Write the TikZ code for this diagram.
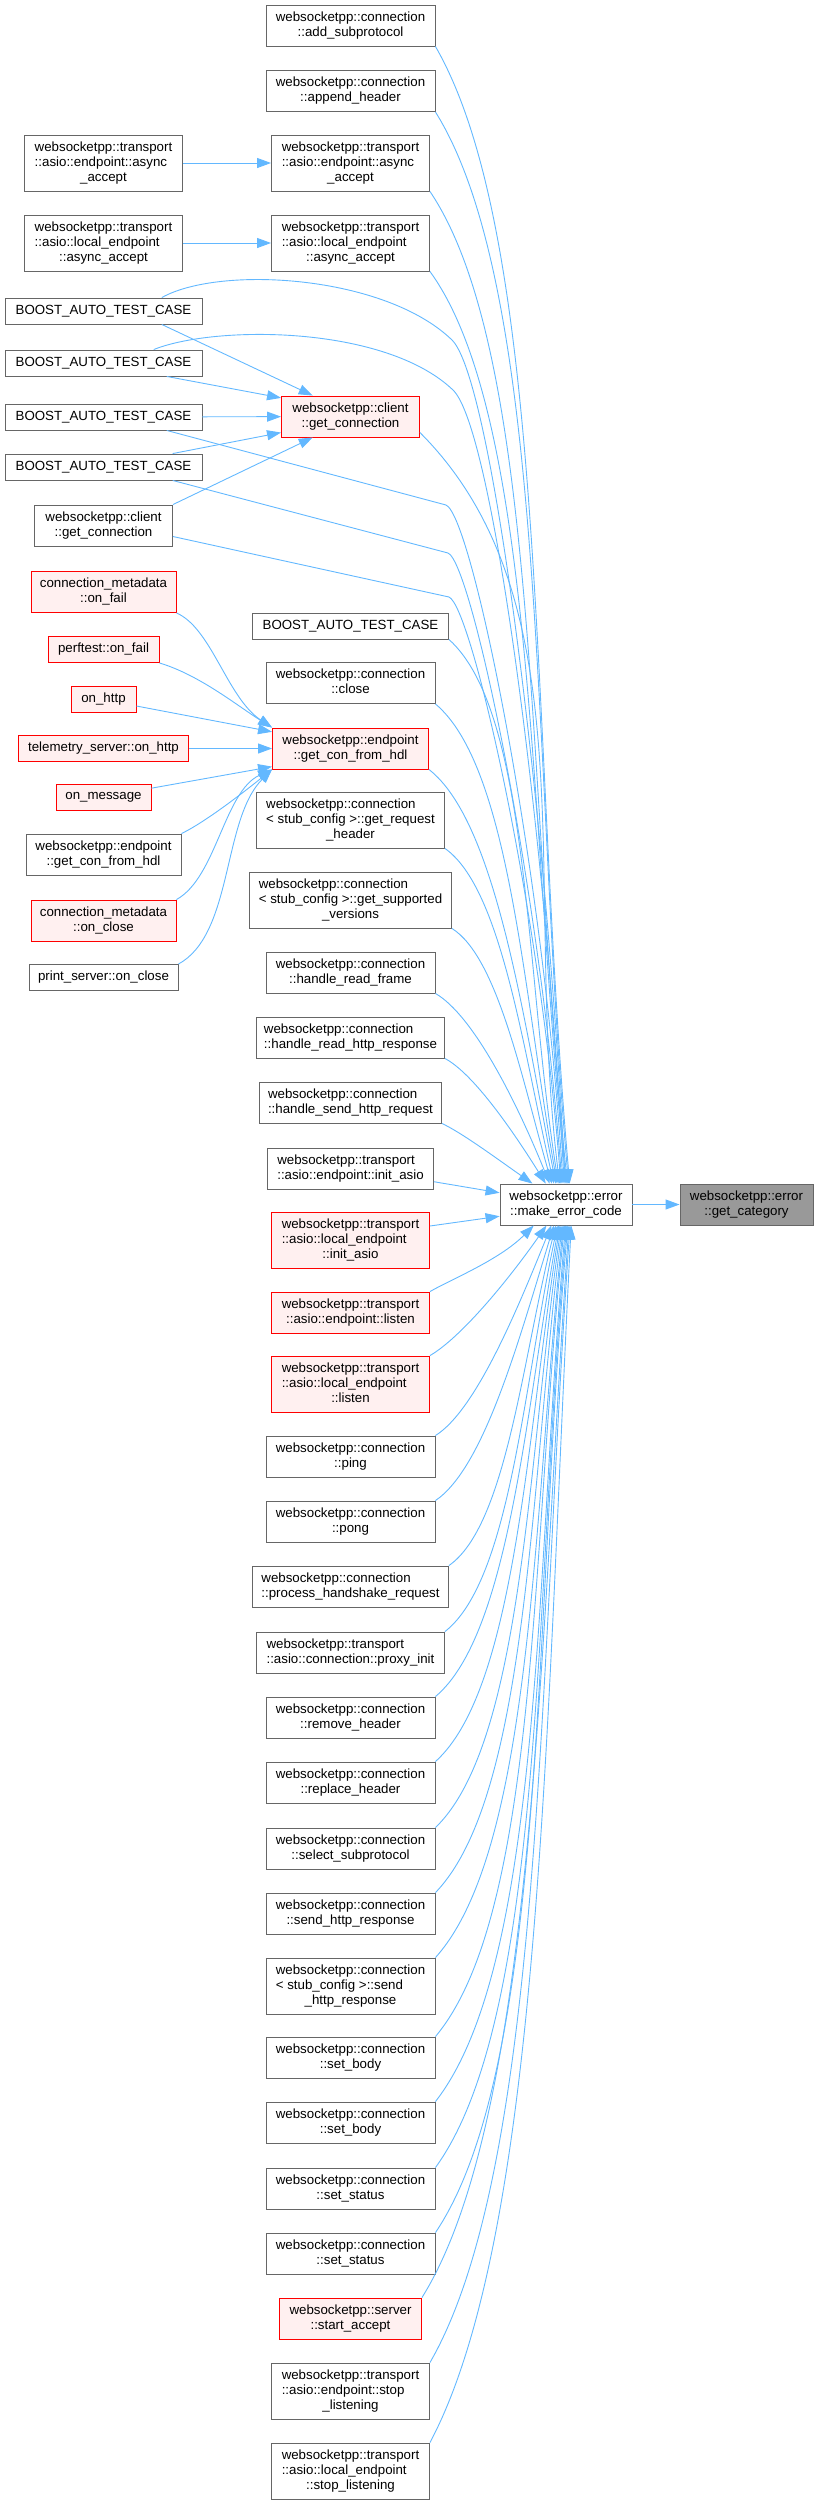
\documentclass[tikz,border=0pt]{standalone}
\usepackage{fontspec}
\setmainfont{Liberation Sans}
\usetikzlibrary{arrows.meta}

\definecolor{boxline}{HTML}{666666}
\definecolor{hotline}{HTML}{FF0000}
\definecolor{hotfill}{HTML}{FFF0F0}
\definecolor{rootfill}{HTML}{999999}
\definecolor{callblue}{HTML}{63B8FF}

% first lines flush left, last line centred
\newcommand{\twoln}[2]{\begin{tabular}{@{}l@{}}#1\\\multicolumn{1}{@{}c@{}}{#2}\end{tabular}}
\newcommand{\threeln}[3]{\begin{tabular}{@{}l@{}}#1\\#2\\\multicolumn{1}{@{}c@{}}{#3}\end{tabular}}

\tikzset{
  fn/.style = {draw=boxline, fill=white, line width=0.9pt, inner sep=0pt,
               minimum height=41, font=\fontsize{13.3}{15}\selectfont},
  oneline/.style = {minimum height=26},
  threeline/.style = {minimum height=56},
  hot/.style = {draw=hotline, fill=hotfill},
  calls/.style = {draw=callblue, line width=0.9pt,
                  -{Triangle[length=14pt, width=10pt]}}
}

\begin{document}
\begin{tikzpicture}[x = 1pt, y = -1pt]
\useasboundingbox (0, 0) rectangle (818, 2504);

% the function and its one caller
\node[fn, fill=rootfill, minimum width=133] (cat) at (746.5, 1204.5) {\twoln{websocketpp::error}{::get\_category}};
\node[fn, minimum width=132] (mec) at (566, 1204.5) {\twoln{websocketpp::error}{::make\_error\_code}};
\draw[calls] (mec) -- (cat);

% callers of make_error_code
\node[fn, minimum width=169] (addsub) at (350.5, 25.5) {\twoln{websocketpp::connection}{::add\_subprotocol}};
\node[fn, minimum width=169] (apphdr) at (350.5, 91) {\twoln{websocketpp::connection}{::append\_header}};
\node[fn, threeline, minimum width=158] (epaccB) at (350.5, 163) {\threeln{websocketpp::transport}{::asio::endpoint::async}{\_accept}};
\node[fn, threeline, minimum width=158] (leaccB) at (350.5, 243) {\threeln{websocketpp::transport}{::asio::local\_endpoint}{::async\_accept}};
\node[fn, hot, minimum width=138] (cliget) at (350.5, 416.5) {\twoln{websocketpp::client}{::get\_connection}};
\node[fn, oneline, minimum width=196] (bt5) at (350.5, 626) {BOOST\_AUTO\_TEST\_CASE};
\node[fn, minimum width=169] (close) at (350.5, 683) {\twoln{websocketpp::connection}{::close}};
\node[fn, hot, minimum width=156] (gcfh) at (350.5, 748.5) {\twoln{websocketpp::endpoint}{::get\_con\_from\_hdl}};
\node[fn, threeline, minimum width=188] (reqhdr) at (350.5, 820) {\threeln{websocketpp::connection}{< stub\_config >::get\_request}{\_header}};
\node[fn, threeline, minimum width=202] (supver) at (350.5, 900) {\threeln{websocketpp::connection}{< stub\_config >::get\_supported}{\_versions}};
\node[fn, minimum width=169] (rframe) at (350.5, 972.5) {\twoln{websocketpp::connection}{::handle\_read\_frame}};
\node[fn, minimum width=188] (rresp) at (350.5, 1037.5) {\twoln{websocketpp::connection}{::handle\_read\_http\_response}};
\node[fn, minimum width=182] (sreq) at (350.5, 1102.5) {\twoln{websocketpp::connection}{::handle\_send\_http\_request}};
\node[fn, minimum width=166] (initasio) at (350.5, 1168.5) {\twoln{websocketpp::transport}{::asio::endpoint::init\_asio}};
\node[fn, hot, threeline, minimum width=158] (leinit) at (350.5, 1240) {\threeln{websocketpp::transport}{::asio::local\_endpoint}{::init\_asio}};
\node[fn, hot, minimum width=158] (eplisten) at (350.5, 1312.5) {\twoln{websocketpp::transport}{::asio::endpoint::listen}};
\node[fn, hot, threeline, minimum width=158] (lelisten) at (350.5, 1384) {\threeln{websocketpp::transport}{::asio::local\_endpoint}{::listen}};
\node[fn, minimum width=169] (ping) at (350.5, 1456.5) {\twoln{websocketpp::connection}{::ping}};
\node[fn, minimum width=169] (pong) at (350.5, 1521.5) {\twoln{websocketpp::connection}{::pong}};
\node[fn, minimum width=196] (hshake) at (350.5, 1586.5) {\twoln{websocketpp::connection}{::process\_handshake\_request}};
\node[fn, minimum width=188] (proxy) at (350.5, 1652.5) {\twoln{websocketpp::transport}{::asio::connection::proxy\_init}};
\node[fn, minimum width=169] (remhdr) at (350.5, 1717.5) {\twoln{websocketpp::connection}{::remove\_header}};
\node[fn, minimum width=169] (rephdr) at (350.5, 1782.5) {\twoln{websocketpp::connection}{::replace\_header}};
\node[fn, minimum width=169] (selsub) at (350.5, 1848.5) {\twoln{websocketpp::connection}{::select\_subprotocol}};
\node[fn, minimum width=169] (sresp) at (350.5, 1913.5) {\twoln{websocketpp::connection}{::send\_http\_response}};
\node[fn, threeline, minimum width=169] (stubresp) at (350.5, 1986) {\threeln{websocketpp::connection}{< stub\_config >::send}{\_http\_response}};
\node[fn, minimum width=169] (body1) at (350.5, 2057.5) {\twoln{websocketpp::connection}{::set\_body}};
\node[fn, minimum width=169] (body2) at (350.5, 2122.5) {\twoln{websocketpp::connection}{::set\_body}};
\node[fn, minimum width=169] (status1) at (350.5, 2188.5) {\twoln{websocketpp::connection}{::set\_status}};
\node[fn, minimum width=169] (status2) at (350.5, 2253.5) {\twoln{websocketpp::connection}{::set\_status}};
\node[fn, hot, minimum width=142] (saccept) at (350.5, 2318.5) {\twoln{websocketpp::server}{::start\_accept}};
\node[fn, threeline, minimum width=158] (epstop) at (350.5, 2391) {\threeln{websocketpp::transport}{::asio::endpoint::stop}{\_listening}};
\node[fn, threeline, minimum width=158] (lestop) at (350.5, 2471) {\threeln{websocketpp::transport}{::asio::local\_endpoint}{::stop\_listening}};

% callers one step further out
\node[fn, threeline, minimum width=158] (epaccA) at (103.5, 163) {\threeln{websocketpp::transport}{::asio::endpoint::async}{\_accept}};
\node[fn, threeline, minimum width=158] (leaccA) at (103.5, 243) {\threeln{websocketpp::transport}{::asio::local\_endpoint}{::async\_accept}};
\node[fn, oneline, minimum width=197] (bt1) at (103.5, 311) {BOOST\_AUTO\_TEST\_CASE};
\node[fn, oneline, minimum width=197] (bt2) at (103.5, 363) {BOOST\_AUTO\_TEST\_CASE};
\node[fn, oneline, minimum width=197] (bt3) at (103.5, 417) {BOOST\_AUTO\_TEST\_CASE};
\node[fn, oneline, minimum width=197] (bt4) at (103.5, 467) {BOOST\_AUTO\_TEST\_CASE};
\node[fn, minimum width=138] (cligetA) at (103.5, 525.5) {\twoln{websocketpp::client}{::get\_connection}};
\node[fn, hot, minimum width=145] (mdfail) at (103.5, 592) {\twoln{connection\_metadata}{::on\_fail}};
\node[fn, hot, oneline, minimum width=111] (ptfail) at (103.5, 649.5) {perftest::on\_fail};
\node[fn, hot, oneline, minimum width=65] (onhttp) at (103.5, 699) {on\_http};
\node[fn, hot, oneline, minimum width=170] (telhttp) at (103.5, 748.5) {telemetry\_server::on\_http};
\node[fn, hot, oneline, minimum width=95] (onmsg) at (103.5, 797.5) {on\_message};
\node[fn, minimum width=155] (gcfhA) at (103.5, 854.5) {\twoln{websocketpp::endpoint}{::get\_con\_from\_hdl}};
\node[fn, hot, minimum width=145] (mdclose) at (103.5, 920.5) {\twoln{connection\_metadata}{::on\_close}};
\node[fn, oneline, minimum width=149] (psclose) at (103.5, 977.5) {print\_server::on\_close};

% edges into make_error_code, from above
\foreach \n/\a/\o/\d/\i/\e in {addsub/80/-60/225/95/450, apphdr/83/-58/212/95/421,
    epaccB/86/-56/196/96/391, leaccB/89/-54/180/96/359, bt5/110/-42/109/99/217,
    close/113/-40/97/100/194, gcfh/116/-38/85/101/170, reqhdr/120/-35/69/103/138,
    supver/124/-32/54/106/107, rframe/128/-30/44/112/87, rresp/134/-28/32/122/63,
    sreq/148/-25/22/145/43}
  \draw[calls] (\n.south east) .. controls +(\o:\d pt) and +(\i:\e pt) .. (mec.\a);
\draw[calls] (cliget.-13) .. controls +(-45:240pt) and +(97:300pt) .. (mec.107);
\draw[calls] (initasio.-9) -- (mec.170);
\draw[calls] (leinit.10) -- (mec.190);

% edges into make_error_code, from below
\foreach \n/\a/\o/\d/\i/\e in {eplisten/213/30/24/-135/49, lelisten/227/30/35/-125/69,
    ping/235/32/47/-112/94, pong/240/34/59/-107/118, hshake/244/35/70/-104/140,
    proxy/248/38/83/-102/165, remhdr/251/40/96/-100/191, rephdr/254/42/108/-99/215,
    selsub/257/44/121/-98/241, sresp/260/46/133/-97/266, stubresp/263/48/146/-96/291,
    body1/266/50/161/-96/321, body2/269/52/174/-95/347, status1/272/54/186/-95/372,
    status2/275/56/199/-95/397, saccept/278/58/212/-94/424, epstop/281/60/225/-94/449,
    lestop/284/62/240/-93/480}
  \draw[calls] (\n.north east) .. controls +(\o:\d pt) and +(\i:\e pt) .. (mec.\a);

% the left column
\draw[calls] (epaccA) -- (epaccB);
\draw[calls] (leaccA) -- (leaccB);
\draw[calls] (bt1.13) .. controls (220, 265) and (385, 275) .. (452, 340)
  .. controls (492, 379) and (545, 800) .. (mec.92);
\draw[calls] (bt2.15) .. controls (215, 325) and (385, 325) .. (453, 390)
  .. controls (493, 428) and (545, 830) .. (mec.95);
\draw[calls] (bt3.-12) -- (446, 505) .. controls (472, 516) and (542, 860) .. (mec.98);
\draw[calls] (bt4.-11) -- (448, 553) .. controls (472, 563) and (540, 890) .. (mec.101);
\draw[calls] (cligetA.-9) -- (449, 597) .. controls (472, 607) and (540, 910) .. (mec.104);
\draw[calls] (bt1.-13) -- (cliget.151);
\draw[calls] (bt2.-12) -- (cliget.165);
\draw[calls] (bt3) -- (cliget);
\draw[calls] (bt4.11) -- (cliget.193);
\draw[calls] (cligetA.north east) -- (cliget.209);

\draw[calls] (mdfail.south east) .. controls +(35, 15) and +(-45, -30) .. (gcfh.north west);
\draw[calls] (ptfail.south east) .. controls +(40, 12) and +(-35, -22) .. (gcfh.north west);
\draw[calls] (onhttp.-12) -- (gcfh.168);
\draw[calls] (telhttp) -- (gcfh);
\draw[calls] (onmsg.11) -- (gcfh.193);
\draw[calls] (gcfhA.north east) .. controls +(25, -12) and +(-25, 20) .. (gcfh.south west);
\draw[calls] (mdclose.north east) .. controls +(40, -22) and +(-48, 22) .. (gcfh.south west);
\draw[calls] (psclose.north east) .. controls +(55, -30) and +(-50, 50) .. (gcfh.south west);

\end{tikzpicture}
\end{document}
